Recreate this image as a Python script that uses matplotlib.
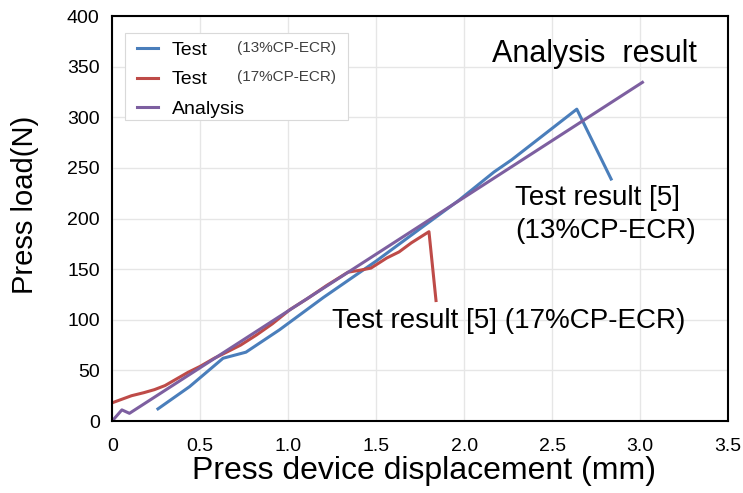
import matplotlib.pyplot as plt
from matplotlib.patches import Rectangle
import numpy as np

plt.rcParams['font.family'] = ['Liberation Sans', 'DejaVu Sans']

# Test result, 13%CP-ECR
x_13 = [0.26, 0.44, 0.63, 0.76, 0.95, 1.20, 1.50, 1.75, 1.97, 2.17, 2.27, 2.64, 2.835]
y_13 = [12, 34, 62, 68, 90, 122, 158, 190, 218, 246, 258, 308, 239]

# Test result, 17%CP-ECR
x_17 = [0.0, 0.11, 0.18, 0.24, 0.30, 0.37, 0.43, 0.50, 0.58, 0.65, 0.73, 0.82,
        0.91, 1.01, 1.11, 1.22, 1.34, 1.41, 1.47, 1.56, 1.63, 1.70, 1.80, 1.84]
y_17 = [18, 25, 28, 31, 35, 42, 48, 54, 62, 68, 75, 85,
        96, 110, 121, 134, 147, 149, 151, 161, 167, 176, 187, 119]

# Analysis
x_an = [0.0, 0.055, 0.098, 3.013]
y_an = [0, 11, 7.6, 334.5]

fig = plt.figure(figsize=(7.43, 4.93), dpi=100)
ax = fig.add_axes([0.151, 0.146, 0.829, 0.8215])

ax.plot(x_13, y_13, color='#4A7EBB', lw=2.2, label='Test')
ax.plot(x_17, y_17, color='#BE4B48', lw=2.2, label='Test')
ax.plot(x_an, y_an, color='#7D5FA0', lw=2.2, label='Analysis')

ax.set_xlim(0, 3.5)
ax.set_ylim(0, 400)
ax.set_xticks(np.arange(0, 3.51, 0.5))
ax.set_xticklabels(['0', '0.5', '1.0', '1.5', '2.0', '2.5', '3.0', '3.5'])
ax.set_yticks(np.arange(0, 401, 50))
ax.tick_params(labelsize=14, length=0)
ax.tick_params(axis='x', pad=12)
ax.tick_params(axis='y', pad=9)
ax.grid(color='#e6e6e6', lw=1.0)
ax.set_axisbelow(True)
for s in ax.spines.values():
    s.set_color('black')
    s.set_linewidth(1.5)

ax.set_xlabel('Press device displacement (mm)', fontsize=23, va='top')
ax.xaxis.set_label_coords(0.506, -0.086)
ax.set_ylabel('Press load(N)', fontsize=21, va='center')
ax.yaxis.set_label_coords(-0.141, 0.533)

# legend box drawn separately so the sample-name notes fit inside it
ax.add_patch(Rectangle((0.021, 0.743), 0.362, 0.215, transform=ax.transAxes,
                       facecolor='white', edgecolor='#d9d9d9', lw=0.8, zorder=4))
leg = ax.legend(loc='upper left', bbox_to_anchor=(0.031, 0.953), borderaxespad=0,
                fontsize=14, frameon=False, handlelength=1.05,
                handletextpad=0.75, borderpad=0.3, labelspacing=0.63)
leg.set_zorder(5)
ax.text(0.203, 0.921, '(13%CP-ECR)', transform=ax.transAxes, fontsize=11,
        color='#404040', va='center', zorder=6)
ax.text(0.203, 0.850, '(17%CP-ECR)', transform=ax.transAxes, fontsize=11,
        color='#404040', va='center', zorder=6)

ax.text(2.159, 354.6, 'Analysis  result', fontsize=22, va='baseline')
ax.text(2.29, 213, 'Test result [5]', fontsize=20, va='baseline')
ax.text(2.29, 180.7, '(13%CP-ECR)', fontsize=20, va='baseline')
ax.text(1.25, 91.9, 'Test result [5] (17%CP-ECR)', fontsize=20, va='baseline')

fig.savefig('out.png', dpi=100)
